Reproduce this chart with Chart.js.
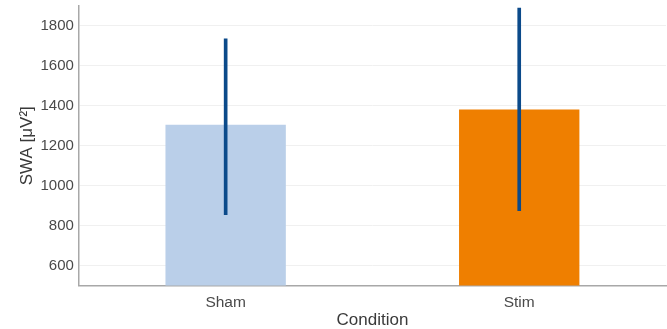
<!DOCTYPE html>
<html>
<head>
<meta charset="utf-8">
<script src="https://cdn.jsdelivr.net/npm/chart.js@4"></script>
<style>
  html, body { margin: 0; padding: 0; background: #fff; }
  #wrap { width: 667px; height: 329px; }
</style>
</head>
<body>
<div id="wrap"><canvas id="myChart"></canvas></div>
<script>
// data
var conditions = ["Sham", "Stim"];
var swaMean = [1305, 1382];
var swaLow = [855, 875];
var swaHigh = [1735, 1890];
var yTicks = [600, 800, 1000, 1200, 1400, 1600, 1800];
var barColors = ["#bacfe9", "#ef7f00"];

var errRanges = conditions.map(function (c, i) { return [swaLow[i], swaHigh[i]]; });

var ctx = document.getElementById("myChart");
var myChart = new Chart(ctx, {
    type: 'bar',
    data: {
        labels: conditions,
        datasets: [
            {
                label: "error",
                data: errRanges,
                backgroundColor: "#0b4a8a",
                barThickness: 3,
                grouped: false,
                order: 0
            },
            {
                label: "SWA",
                data: swaMean,
                backgroundColor: barColors,
                barPercentage: 0.41,
                categoryPercentage: 1.0,
                grouped: false,
                order: 1
            }
        ]
    },
    options: {
        responsive: true,
        maintainAspectRatio: false,
        animation: false,
        layout: { padding: { top: 0, right: 1, left: 18.5, bottom: 0 } },
        plugins: {
            legend: { display: false },
            tooltip: { enabled: false }
        },
        scales: {
            x: {
                grid: { display: false },
                border: { color: "#a8a8a8", width: 1.5 },
                ticks: { color: "#4a4a4a", font: { family: "Liberation Sans", size: 15.5 }, padding: 0 },
                title: { display: true, text: "Condition", color: "#3a3a3a", font: { family: "Liberation Sans", size: 17, lineHeight: 1 }, padding: { top: 0, bottom: 0 } }
            },
            y: {
                min: 500,
                max: 1900,
                afterBuildTicks: function (s) {
                    s.ticks = yTicks.map(function (v) { return { value: v }; });
                },
                afterFit: function (s) {
                    s.paddingTop = 6;
                    s.paddingBottom = 0;
                },
                grid: { color: "#f0f0f0", drawTicks: false },
                border: { color: "#a8a8a8", width: 1.5 },
                ticks: {
                    color: "#4a4a4a", font: { family: "Liberation Sans", size: 15 }, padding: 5,
                    callback: function (v) { return String(v); }
                },
                title: { display: true, text: "SWA [\u03bcV\u00b2]", color: "#3a3a3a", font: { family: "Liberation Sans", size: 17, lineHeight: 1 }, padding: { top: 0, bottom: 0 } }
            }
        }
    }
});
</script>
</body>
</html>
